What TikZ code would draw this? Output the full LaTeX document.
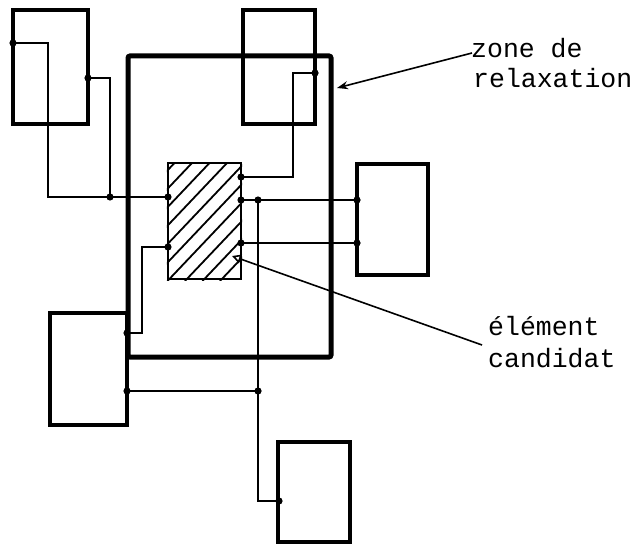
\documentclass[tikz,border=0pt]{standalone}
\usepackage{fontspec}
\setmonofont{Liberation Mono}
\usetikzlibrary{arrows.meta}
\begin{document}
\begin{tikzpicture}[x=1pt,y=-1pt,
  blk/.style={draw, line width=3.6pt, inner sep=0pt, rectangle},
  zonebox/.style={draw, line width=5pt, inner sep=0pt, rectangle, rounded corners=2pt},
  candbox/.style={draw, line width=2.3pt, inner sep=0pt, rectangle},
  wire/.style={line width=2.1pt},
  hatch/.style={line width=1.8pt},
  lbl/.style={font=\ttfamily\fontsize{26.5}{30}\selectfont, inner sep=0pt, anchor=base west},
  ptr/.style={line width=1.6pt}
]
\useasboundingbox (0,0) rectangle (636,545);
% blocks
\node[blk, minimum width=75pt, minimum height=114pt] (A) at (50.5,67) {};
\node[blk, minimum width=72pt, minimum height=114pt] (B) at (279,67) {};
\node[zonebox, minimum width=203pt, minimum height=301pt] (Z) at (229.5,206.5) {};
\node[blk, minimum width=71pt, minimum height=111pt] (C) at (392.5,219.5) {};
\node[blk, minimum width=77pt, minimum height=112pt] (D) at (88.5,369) {};
\node[blk, minimum width=72pt, minimum height=100pt] (E) at (314,492) {};
% candidate element with hatching
\node[candbox, fill=white, minimum width=73pt, minimum height=116pt] (H) at (204.5,221) {};
\begin{scope}
  \clip (H.south west) rectangle (H.north east);
  \foreach \k in {0,...,9} {
    \draw[hatch] ({220-17.5*\k},281) -- ({220-17.5*\k+112},163);
  }
\end{scope}
\node[candbox, minimum width=73pt, minimum height=116pt] (H2) at (204.5,221) {};
% pins and junctions
\coordinate (a1) at (13,43);
\coordinate (a2) at (88,78);
\coordinate (j1) at (110,197);
\coordinate (h1) at (168,197);
\coordinate (b1) at (315,73);
\coordinate (h2) at (241,177);
\coordinate (h3) at (241,200);
\coordinate (j2) at (258,200);
\coordinate (c1) at (357,200);
\coordinate (h4) at (241,243);
\coordinate (c2) at (357,243);
\coordinate (j3) at (258,391);
\coordinate (d1) at (127,391);
\coordinate (e1) at (279,501);
\coordinate (h5) at (168,247);
\coordinate (d2) at (127,333);
% wires
\draw[wire] (a1) -| (48,197) -- (h1);
\draw[wire] (a2) -| (j1);
\draw[wire] (b1) -| (293,177) -- (h2);
\draw[wire] (h3) -- (c1);
\draw[wire] (h4) -- (c2);
\draw[wire] (j2) -- (j3) |- (e1);
\draw[wire] (d1) -- (j3);
\draw[wire] (h5) -| (142,333) -- (d2);
% dots
\foreach \p in {a1,a2,j1,h1,b1,h2,h3,j2,c1,h4,c2,j3,d1,e1,h5,d2}
  \fill (\p) circle (3.6pt);
% labels
\node[lbl] (zl1) at (471,58) {zone de};
\node[lbl] (zl2) at (473,88) {relaxation};
\node[lbl] (el1) at (488,335) {élément};
\node[lbl] (el2) at (488,367) {candidat};
\coordinate (zs) at (472,53);
\coordinate (zt) at (337,88);
\draw[ptr, -{Stealth[length=11pt,width=8pt]}] (zs) -- (zt);
\coordinate (es) at (482,345);
\coordinate (et) at (232,256);
\draw[ptr, -{Triangle[open,length=9pt,width=9pt,line width=1.6pt]}] (es) -- (et);
\end{tikzpicture}
\end{document}
